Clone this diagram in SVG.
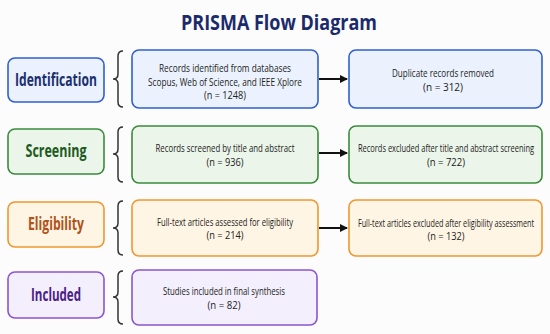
<svg xmlns="http://www.w3.org/2000/svg" width="550" height="334" viewBox="0 0 550 334">
<defs>
<style>
.bg{fill:#fcfcfc}
.title{font-family:"Open Sans","Noto Sans","Liberation Sans",sans-serif;font-weight:bold;font-size:21px;fill:#1b2a6b}
.lab{font-family:"Open Sans","Noto Sans","Liberation Sans",sans-serif;font-weight:bold;font-size:17px;text-anchor:middle}
.t{font-family:"Open Sans","Noto Sans","Liberation Sans",sans-serif;font-size:10px;fill:#222;text-anchor:middle}
.box{stroke-width:1.6}
.blue{fill:#ebf2fd;stroke:#2f5fcf}
.green{fill:#ebf5e9;stroke:#3a8a3c}
.orange{fill:#fff5e4;stroke:#ef962e}
.purple{fill:#f3effc;stroke:#8a55cf}
.brace{fill:none;stroke:#333;stroke-width:1.5}
.arr{stroke:#111;stroke-width:2;fill:none}
</style>
<marker id="ah" markerWidth="8" markerHeight="8" refX="7" refY="4" orient="auto" markerUnits="userSpaceOnUse">
<path d="M0,0 L8,4 L0,8 Z" fill="#111"/>
</marker>
</defs>
<rect class="bg" x="0" y="0" width="550" height="334"/>
<text class="title" x="181" y="30" textLength="196" lengthAdjust="spacingAndGlyphs">PRISMA Flow Diagram</text>

<g id="identification">
<rect class="box blue" x="8" y="58" width="96" height="44" rx="7"/>
<text class="lab" x="56" y="86" fill="#1b2f6e" textLength="82" lengthAdjust="spacingAndGlyphs">Identification</text>
</g>
<g id="records-identified">
<rect class="box blue" x="132" y="50" width="186" height="58" rx="7"/>
<text class="t" x="225" y="72" textLength="132" lengthAdjust="spacingAndGlyphs">Records identified from databases</text>
<text class="t" x="225" y="86" textLength="154" lengthAdjust="spacingAndGlyphs">Scopus, Web of Science, and IEEE Xplore</text>
<text class="t" x="225" y="99" textLength="42" lengthAdjust="spacingAndGlyphs">(n = 1248)</text>
</g>
<g id="duplicates">
<rect class="box blue" x="349" y="50" width="193" height="58" rx="7"/>
<text class="t" x="443" y="77" textLength="102" lengthAdjust="spacingAndGlyphs">Duplicate records removed</text>
<text class="t" x="443" y="91" textLength="40" lengthAdjust="spacingAndGlyphs">(n = 312)</text>
</g>

<g id="screening">
<rect class="box green" x="8" y="129" width="96" height="45" rx="7"/>
<text class="lab" x="56" y="157" fill="#1d5a21" textLength="61" lengthAdjust="spacingAndGlyphs">Screening</text>
</g>
<g id="records-screened">
<rect class="box green" x="132" y="126" width="186" height="57" rx="7"/>
<text class="t" x="225" y="152" textLength="139" lengthAdjust="spacingAndGlyphs">Records screened by title and abstract</text>
<text class="t" x="225" y="166" textLength="37" lengthAdjust="spacingAndGlyphs">(n = 936)</text>
</g>
<g id="records-excluded">
<rect class="box green" x="349" y="126" width="193" height="57" rx="7"/>
<text class="t" transform="translate(446,152) scale(0.74,1)" x="0" y="0" textLength="238" lengthAdjust="spacingAndGlyphs">Records excluded after title and abstract screening</text>
<text class="t" x="446" y="166" textLength="38" lengthAdjust="spacingAndGlyphs">(n = 722)</text>
</g>

<g id="eligibility">
<rect class="box orange" x="8" y="202" width="96" height="45" rx="7"/>
<text class="lab" x="56" y="230" fill="#b0521a" textLength="56" lengthAdjust="spacingAndGlyphs">Eligibility</text>
</g>
<g id="fulltext-assessed">
<rect class="box orange" x="132" y="200" width="186" height="56" rx="7"/>
<text class="t" x="225" y="226" textLength="136" lengthAdjust="spacingAndGlyphs">Full-text articles assessed for eligibility</text>
<text class="t" x="225" y="239" textLength="37" lengthAdjust="spacingAndGlyphs">(n = 214)</text>
</g>
<g id="fulltext-excluded">
<rect class="box orange" x="349" y="200" width="193" height="56" rx="7"/>
<text class="t" transform="translate(446,227) scale(0.74,1)" x="0" y="0" textLength="238" lengthAdjust="spacingAndGlyphs">Full-text articles excluded after eligibility assessment</text>
<text class="t" x="446" y="240" textLength="37" lengthAdjust="spacingAndGlyphs">(n = 132)</text>
</g>

<g id="included">
<rect class="box purple" x="8" y="272" width="96" height="46" rx="7"/>
<text class="lab" x="56" y="301" fill="#4a2186" textLength="50" lengthAdjust="spacingAndGlyphs">Included</text>
</g>
<g id="studies-included">
<rect class="box purple" x="132" y="270" width="185" height="55" rx="7"/>
<text class="t" x="224" y="295" textLength="122" lengthAdjust="spacingAndGlyphs">Studies included in final synthesis</text>
<text class="t" x="224" y="309" textLength="33" lengthAdjust="spacingAndGlyphs">(n = 82)</text>
</g>

<g id="connectors">
<path class="brace" d="M123,51 Q118,51 118,56 L118,74 Q118,79 113,79 Q118,79 118,84 L118,102 Q118,107 123,107"/>
<path class="brace" d="M123,127 Q118,127 118,132 L118,149 Q118,154 113,154 Q118,154 118,159 L118,177 Q118,182 123,182"/>
<path class="brace" d="M123,201 Q118,201 118,206 L118,223 Q118,228 113,228 Q118,228 118,233 L118,250 Q118,255 123,255"/>
<path class="brace" d="M123,271 Q118,271 118,276 L118,292 Q118,297 113,297 Q118,297 118,302 L118,319 Q118,324 123,324"/>
<line class="arr" x1="319" y1="79" x2="347" y2="79" marker-end="url(#ah)"/>
<line class="arr" x1="319" y1="153" x2="347" y2="153" marker-end="url(#ah)"/>
<line class="arr" x1="319" y1="228" x2="347" y2="228" marker-end="url(#ah)"/>
</g>
</svg>
